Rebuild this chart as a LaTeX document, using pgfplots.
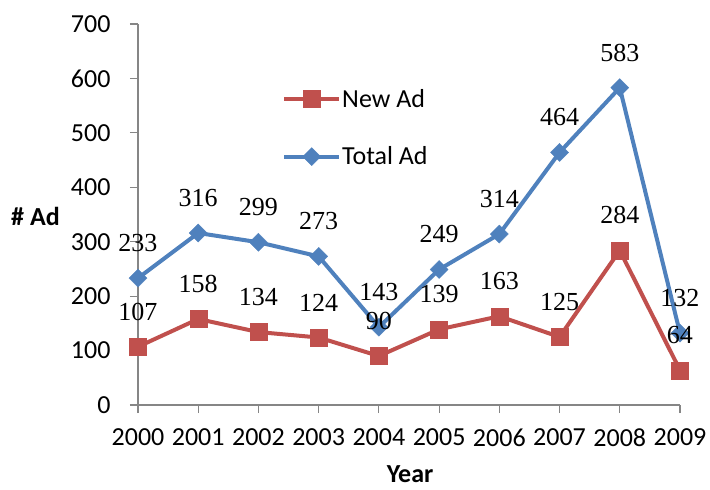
\documentclass[border=0pt]{standalone}
\usepackage{pgfplots}
\pgfplotsset{compat=1.18}
\usepackage{fontspec}
\setmainfont{Carlito}
\newfontfamily\lserif{Liberation Serif}
\definecolor{exred}{HTML}{C0504D}
\definecolor{exblue}{HTML}{4F81BD}
\definecolor{axgray}{HTML}{868686}
\pgfplotstableread{
x new total
0 107 233
1 158 316
2 134 299
3 124 273
4 90 143
5 139 249
6 163 314
7 125 464
8 284 583
9 64 132
}\adtable
\begin{document}
\begin{tikzpicture}
\begin{axis}[
  scale only axis, width=542pt, height=381pt,
  xmin=0, xmax=9, ymin=0, ymax=700,
  axis x line*=bottom, axis y line*=left,
  axis line style={axgray, line width=1.2pt},
  every tick/.style={axgray, line width=1.2pt},
  tick align=outside, major tick length=8pt,
  xtick={0,...,9}, xticklabels={2000,2001,2002,2003,2004,2005,2006,2007,2008,2009},
  ytick={0,100,...,700},
  /pgf/number format/assume math mode=true,
  ticklabel style={font=\fontsize{26}{31}\selectfont, black},
  xticklabel style={yshift=-12pt},
  yticklabel style={xshift=-16pt},
  clip=false,
  legend cell align=left,
  legend image code/.code={\draw[mark repeat=2, mark phase=2, #1] plot coordinates {(0pt,0pt) (27.5pt,0pt) (55pt,0pt)};},
  legend style={draw=none, fill=none, at={(axis description cs:0.2657,0.829)}, anchor=north west,
    font=\fontsize{26}{31}\selectfont, inner sep=0pt, row sep=38pt, column sep=1pt,
    nodes={inner sep=0pt}},
]
\addplot[exred, line width=4pt, mark=square*, mark size=8.5pt, mark options={solid, line width=0.3pt}]
  table[x=x, y=new] {\adtable};
\addlegendentry{New Ad}
\addplot[exblue, line width=4pt, mark=square*, mark size=6.4pt, mark options={solid, rotate=45, line width=0.3pt}]
  table[x=x, y=total] {\adtable};
\addlegendentry{Total Ad}
\addplot[draw=none, forget plot, nodes near coords,
  nodes near coords style={font=\lserif\fontsize{26}{31}\selectfont, anchor=base, yshift=26.5pt, black}]
  table[x=x, y=new] {\adtable};
\addplot[draw=none, forget plot, nodes near coords,
  nodes near coords style={font=\lserif\fontsize{26}{31}\selectfont, anchor=base, yshift=26.5pt, black}]
  table[x=x, y=total] {\adtable};
\node[font=\bfseries\fontsize{26}{31}\selectfont, anchor=east, inner sep=0pt] at (axis description cs:-0.144,0.496) {\# Ad};
\node[font=\bfseries\fontsize{26}{31}\selectfont, anchor=center, inner sep=0pt] at (axis description cs:0.502,-0.182) {Year};
\end{axis}
\path (current axis.south west) ++(-138pt,-85pt) rectangle ++(710pt,490pt);
\end{tikzpicture}
\end{document}
